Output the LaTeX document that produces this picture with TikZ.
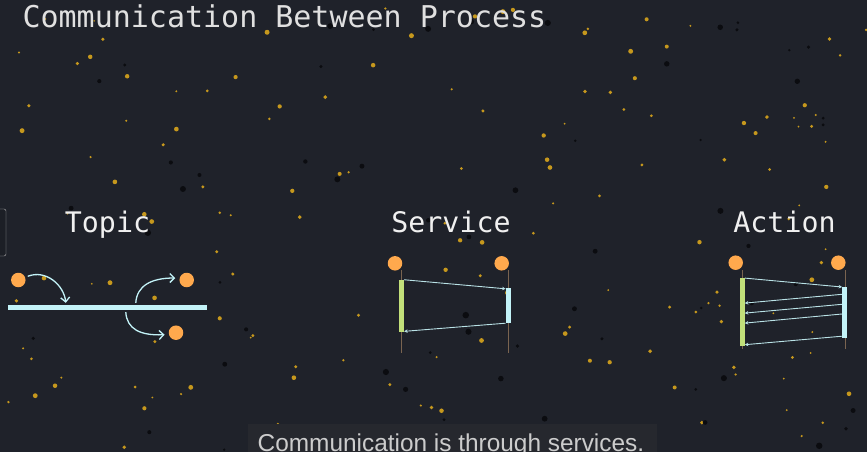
\documentclass[tikz,border=0pt]{standalone}
\usepackage{fontspec}
\setmainfont{Liberation Sans}
\newfontfamily\monofont{DejaVu Sans Mono}
\usetikzlibrary{arrows.meta}

\definecolor{bgdark}{HTML}{1F222A}
\definecolor{capbox}{HTML}{26282E}
\definecolor{procorange}{HTML}{FFA94D}
\definecolor{msgcyan}{HTML}{C3F3F8}
\definecolor{reqgreen}{HTML}{C2E07A}
\definecolor{lifebrown}{HTML}{7A6450}
\definecolor{speckgold}{HTML}{D9A51C}
\definecolor{speckblack}{HTML}{0B0C10}

\begin{document}
\begin{tikzpicture}[x=1pt, y=-1pt,
  proc/.style={circle, fill=procorange, inner sep=0pt, minimum size=14.5pt},
  head/.style={anchor=base, text=white!94!black, font=\monofont\fontsize{28.3}{32}\selectfont},
  lifeline/.style={draw=lifebrown, line width=1pt},
  bar/.style={rectangle, inner sep=0pt, minimum width=4.8pt},
  flow/.style={draw=msgcyan, line width=1.3pt, -{Straight Barb[length=4.5pt,width=9pt]}},
  msg/.style={draw=msgcyan!85!gray, line width=0.9pt, -{Stealth[length=3.5pt,width=3.5pt]}}
]
  % ===== Background and speckles =====
  \fill[bgdark] (0,0) rectangle (867,452);
  \useasboundingbox (0,0) rectangle (867,452);
  \pgfmathsetseed{17}
  \foreach \i in {1,...,150} {
    \pgfmathsetmacro{\sx}{rnd*867}
    \pgfmathsetmacro{\sy}{rnd*452}
    \pgfmathsetmacro{\sr}{0.9+rnd*1.6}
    \fill[speckgold, opacity=0.9] (\sx,\sy) circle (\sr pt);
  }
  \foreach \i in {1,...,60} {
    \pgfmathsetmacro{\sx}{rnd*867}
    \pgfmathsetmacro{\sy}{rnd*452}
    \pgfmathsetmacro{\sr}{1.1+rnd*2.2}
    \fill[speckblack] (\sx,\sy) circle (\sr pt);
  }

  % Partly hidden panel on the left edge
  \draw[gray!60, fill=bgdark!90!black, rounded corners=2pt] (-20,209) rectangle (6,256);

  % ===== Title =====
  \node[anchor=base west, text=white!88!black, font=\monofont\fontsize{30}{34}\selectfont]
    (title) at (19,28) {Communication Between Process};

  % ===== Topic =====
  \node[head] (topiclbl) at (107.5,232.3) {Topic};
  \node[rectangle, fill=msgcyan, inner sep=0pt, minimum width=199pt, minimum height=5pt]
    (topicbar) at (107.5,307.5) {};
  \node[proc] (pub) at (18.3,280) {};
  \node[proc] (sub1) at (186.7,280) {};
  \node[proc] (sub2) at (176,332.7) {};
  \draw[flow] ([xshift=3pt]pub.30) .. controls +(18,-7) and +(-2,-18) .. ([xshift=58pt,yshift=2pt]topicbar.north west);
  \draw[flow] ([xshift=128pt,yshift=2pt]topicbar.north west) .. controls +(1,-17) and +(-24,0) .. ([xshift=-4pt,yshift=2pt]sub1.west);
  \draw[flow] ([xshift=118pt,yshift=-2pt]topicbar.south west) .. controls +(1,17) and +(-24,1) .. ([xshift=-4pt,yshift=-2pt]sub2.west);

  % ===== Service =====
  \node[head] (srvlbl) at (451,232.3) {Service};
  \draw[lifeline] (401.7,270) -- (401.7,353);
  \draw[lifeline] (508.3,270) -- (508.3,353);
  \node[proc] (sclient) at (395,263.3) {};
  \node[proc] (sserver) at (501.7,263.3) {};
  \node[bar, fill=reqgreen, minimum height=51.7pt] (sreq) at (401.5,305.8) {};
  \node[bar, fill=msgcyan, minimum height=35pt] (sres) at (508.2,305.5) {};
  \draw[msg] (sreq.north east) -- ([yshift=-1pt]sres.north west);
  \draw[msg] (sres.south west) -- ([yshift=0.5pt]sreq.south east);

  % ===== Action =====
  \node[head] (actlbl) at (784.5,232.3) {Action};
  \draw[lifeline] (742,270) -- (742,349);
  \draw[lifeline] (845,270) -- (845,349);
  \node[proc] (aclient) at (735.7,262.7) {};
  \node[proc] (aserver) at (838.3,262.7) {};
  \node[bar, fill=reqgreen, minimum height=67.4pt] (areq) at (742.2,312) {};
  \node[bar, fill=msgcyan, minimum height=51pt] (ares) at (844.7,312.2) {};
  \draw[msg] (areq.north east) -- ([yshift=-0.5pt]ares.north west);
  \foreach \a/\b in {7.8/25, 17.8/35, 27.5/45}
    \draw[msg] ([yshift=-\a pt]ares.north west) -- ([yshift=-\b pt]areq.north east);
  \draw[msg] ([yshift=1.7pt]ares.south west) -- ([yshift=1.2pt]areq.south east);

  % ===== Caption =====
  \fill[capbox] (248,424) rectangle (657,460);
  \node[anchor=base west, inner sep=0pt, text=white!80!black, font=\fontsize{24.4}{28}\selectfont]
    (caption) at (257.5,451) {Communication is through services.};
\end{tikzpicture}
\end{document}
